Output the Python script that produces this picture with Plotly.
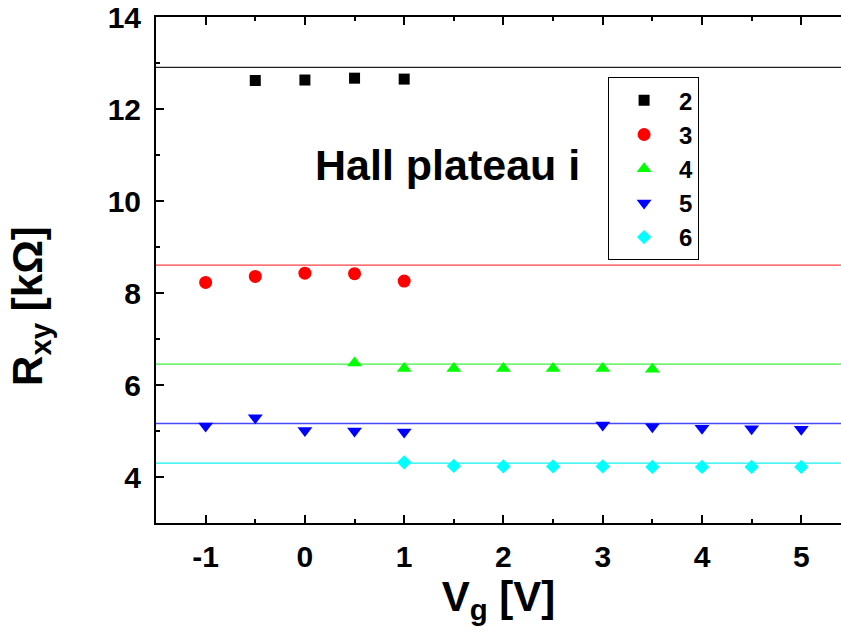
import plotly.graph_objects as go

# Gate voltage and Hall resistance measured on each plateau
vg_i2 = [-0.5, 0, 0.5, 1]
rxy_i2 = [12.62, 12.63, 12.67, 12.65]

vg_i3 = [-1, -0.5, 0, 0.5, 1]
rxy_i3 = [8.23, 8.36, 8.43, 8.42, 8.26]

vg_i4 = [0.5, 1, 1.5, 2, 2.5, 3, 3.5]
rxy_i4 = [6.48, 6.36, 6.36, 6.36, 6.36, 6.36, 6.34]

vg_i5 = [-1, -0.5, 0, 0.5, 1, 3, 3.5, 4, 4.5, 5]
rxy_i5 = [5.11, 5.29, 5.01, 5.00, 4.98, 5.13, 5.09, 5.06, 5.05, 5.04]

vg_i6 = [1, 1.5, 2, 2.5, 3, 3.5, 4, 4.5, 5]
rxy_i6 = [4.32, 4.24, 4.23, 4.23, 4.23, 4.22, 4.22, 4.22, 4.22]

# Quantized values h/(i e^2) in kOhm
plateau_labels = ["2", "3", "4", "5", "6"]
plateau_values = [12.906, 8.604, 6.453, 5.163, 4.302]

x_ticks = [-1, 0, 1, 2, 3, 4, 5]
y_ticks = [4, 6, 8, 10, 12, 14]

FONT = "Liberation Sans, Arial, sans-serif"

series = [
    (vg_i2, rxy_i2, "square", 11, "#000000"),
    (vg_i3, rxy_i3, "circle", 13, "#ff0000"),
    (vg_i4, rxy_i4, "triangle-up", 13, "#00ff00"),
    (vg_i5, rxy_i5, "triangle-down", 13, "#0000ff"),
    (vg_i6, rxy_i6, "diamond", 11, "#00ffff"),
]
line_colors = ["#202020", "#ff4040", "#40f040", "#4848ff", "#10f0f0"]

fig = go.Figure()

for level, color in zip(plateau_values, line_colors):
    fig.add_hline(y=level, line=dict(color=color, width=1.3), layer="below")

for (xs, ys, sym, size, color), name in zip(series, plateau_labels):
    fig.add_trace(go.Scatter(
        x=xs, y=ys, mode="markers", name=name, legendgroup=name,
        marker=dict(symbol=sym, size=size, color=color, line=dict(width=0)),
    ))

tickfont = dict(family=FONT, size=30, color="black", weight="bold")

fig.update_layout(
    width=841, height=633,
    margin=dict(l=156, r=0, t=17, b=110, autoexpand=False),
    paper_bgcolor="white", plot_bgcolor="white",
    font=dict(family=FONT, color="black"),
    xaxis=dict(
        range=[-1.5, 5.4], tickvals=x_ticks, ticktext=[str(v) for v in x_ticks],
        showgrid=False, zeroline=False, showline=True, linecolor="black", linewidth=2,
        mirror="ticks", ticks="inside", ticklen=8, tickwidth=1.5, tickcolor="black",
        minor=dict(dtick=0.5, ticks="inside", ticklen=4, tickwidth=1.5, tickcolor="black"),
        tickfont=tickfont, ticklabelstandoff=6,
        title=dict(text="<b>V<sub>g</sub> [V]</b>", font=dict(family=FONT, size=42, color="black"), standoff=0),
    ),
    yaxis=dict(
        range=[3, 14], tickvals=y_ticks, ticktext=[str(v) for v in y_ticks],
        showgrid=False, zeroline=False, showline=True, linecolor="black", linewidth=2,
        ticks="inside", ticklen=8, tickwidth=1.5, tickcolor="black",
        minor=dict(dtick=1, ticks="inside", ticklen=4, tickwidth=1.5, tickcolor="black"),
        tickfont=tickfont, ticklabelstandoff=7,
    ),
    yaxis2=dict(
        matches="y", overlaying="y", side="right", anchor="x",
        showgrid=False, zeroline=False, showline=False, showticklabels=False,
        tickvals=y_ticks, ticks="inside", ticklen=8, tickwidth=1.5, tickcolor="black",
        minor=dict(dtick=1, ticks="inside", ticklen=4, tickwidth=1.5, tickcolor="black"),
    ),
    legend=dict(
        x=0.66, y=0.881, xanchor="left", yanchor="top",
        bgcolor="white", bordercolor="black", borderwidth=1,
        font=dict(family=FONT, size=24, color="black", weight="bold"),
        tracegroupgap=0, itemwidth=60,
    ),
    showlegend=True,
)

# Vertical axis title, left of the tick labels (domain fractions of the plot area)
fig.add_annotation(
    x=-0.1825, y=0.429, xref="x domain", yref="y domain",
    text="<b>R<sub>xy</sub> [kΩ]</b>", textangle=-90, showarrow=False,
    xanchor="center", yanchor="middle",
    font=dict(family=FONT, size=42, color="black"),
)

fig.add_annotation(
    x=0.08, y=10.78, xref="x", yref="y", xanchor="left", yanchor="middle",
    text="<b>Hall plateau i</b>", showarrow=False,
    font=dict(family=FONT, size=43, color="black"),
)

fig.write_html("out.html")
